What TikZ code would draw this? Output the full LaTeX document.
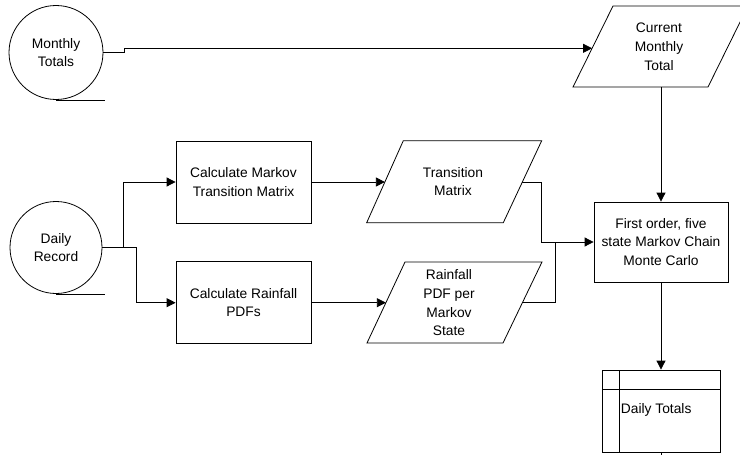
\documentclass[tikz,border=0pt]{standalone}
\usepackage{fontspec}
\setmainfont{Liberation Sans}
\usetikzlibrary{arrows.meta}
\begin{document}
\begin{tikzpicture}[x=1pt,y=-1pt,line width=0.8pt,
  lbl/.style={align=center,font=\fontsize{13.8}{18.7}\selectfont,inner sep=0pt},
  procbox/.style={draw,rectangle,lbl,minimum width=135pt,minimum height=82pt},
  store/.style={draw,circle,lbl},
  arr/.style={-{Triangle[length=9pt,width=9pt]}},
  ]
\clip (0,0) rectangle (740,455);
% data sources
\node[store,minimum size=94pt] (mt) at (56,52.5) {Monthly\\Totals};
\draw (mt.south) -- ++(49,0);
\node[store,minimum size=92pt] (dr) at (56,247.5) {Daily\\Record};
\draw (dr.south) -- ++(49,0);
% processes
\node[procbox] (cm) at (243.5,182) {Calculate Markov\\Transition Matrix};
\node[procbox] (cr) at (243.5,302.7) {Calculate Rainfall\\PDFs};
\node[procbox,minimum width=134pt,minimum height=80pt] (mc) at (661,242) {First order, five\\state Markov Chain\\Monte Carlo};
% parallelograms
\draw (573,87) -- (708,87) -- (748,6) -- (613,6) -- cycle;
\node[lbl] (cmt) at (659,46.7) {Current\\Monthly\\Total};
\coordinate (cmtL) at (592.1,48.3);
\coordinate (cmtB) at (661,87);
\draw (366.7,222.7) -- (503.3,222.7) -- (541.7,140.7) -- (403.3,140.7) -- cycle;
\node[lbl] (tm) at (453,181.7) {Transition\\Matrix};
\coordinate (tmL) at (384.9,182);
\coordinate (tmR) at (521.5,182);
\draw (367,343) -- (503,343) -- (542,262) -- (405,262) -- cycle;
\node[lbl] (rp) at (449,303) {Rainfall\\PDF per\\Markov\\State};
\coordinate (rpL) at (385.9,302.7);
\coordinate (rpR) at (521.9,302.7);
% output store
\node[draw,rectangle,minimum width=118pt,minimum height=82pt,inner sep=0pt] (dt) at (661,411) {};
\draw (602,389) -- (720,389);
\draw (619,370) -- (619,452);
\node[lbl,anchor=west] (dtl) at (620.5,410) {Daily Totals};
\draw (dt.south) -- ++(0,4);
% connectors
\draw[arr] (mt.east) -- (124,52.5) -- (124,48.3) -- (cmtL);
\draw[arr] (cmtB) -- (mc.north);
\draw[arr] (dr.east) -- (123.3,247.5) |- (cm.west);
\draw[arr] (dr.east) -- (136.7,247.5) |- (cr.west);
\draw[arr] (cm.east) -- (tmL);
\draw[arr] (cr.east) -- (rpL);
\draw[arr] (tmR) -- (541.7,182) |- (mc.west);
\draw (rpR) -- (555,302.7) -- (555,242);
\draw[arr] (mc.south) -- (dt.north);
\end{tikzpicture}
\end{document}
